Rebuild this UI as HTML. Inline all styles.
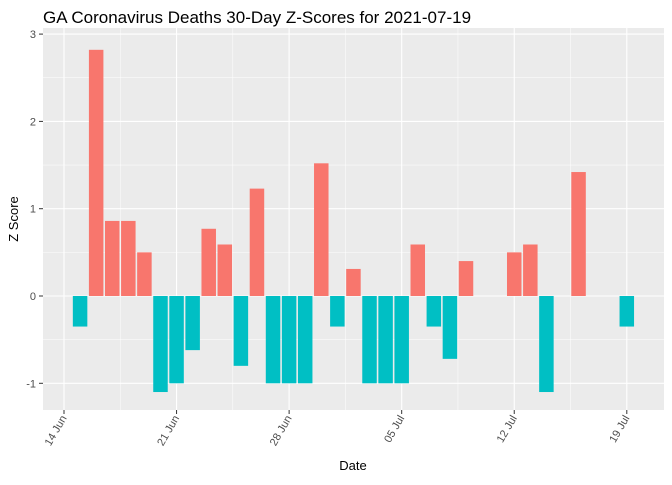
<!DOCTYPE html>
<html><head><meta charset="utf-8"><style>
body{margin:0;background:#fff;font-family:"Liberation Sans",sans-serif}
</style></head><body>
<svg id="c" width="672" height="480" xmlns="http://www.w3.org/2000/svg">
<text x="43" y="23" font-size="17" fill="#000">GA Coronavirus Deaths 30-Day Z-Scores for 2021-07-19</text>
<rect x="43" y="28" width="621" height="382" fill="#ebebeb"/>
<g id="grid"></g><g id="bars"></g><g id="axes"></g>
<text x="353" y="470" font-size="13" text-anchor="middle">Date</text>
<text transform="translate(18,219) rotate(-90)" font-size="13" text-anchor="middle">Z Score</text>
</svg>
<script>
const days=[1,2,3,4,5,6,7,8,9,10,11,12,13,14,15,16,17,18,19,20,21,22,23,24,25,26,27,28,29,30,31,32,33,34,35];
const zscores=[-0.35,2.82,0.86,0.86,0.5,-1.1,-1.0,-0.62,0.77,0.59,-0.8,1.23,-1.0,-1.0,-1.0,1.52,-0.35,0.31,-1.0,-1.0,-1.0,0.59,-0.35,-0.72,0.4,0,0,0.5,0.59,-1.1,0,1.42,0,0,-0.35];
const xTickDays=[0,7,14,21,28,35];
const xTickLabels=["14 Jun","21 Jun","28 Jun","05 Jul","12 Jul","19 Jul"];
const yTicks=[-1,0,1,2,3];
const ns="http://www.w3.org/2000/svg";
const X=d=>64+d*16.08, Y=v=>296-v*87.3;
function mk(t,a,p){const e=document.createElementNS(ns,t);for(const k in a)e.setAttribute(k,a[k]);p.appendChild(e);return e;}
const g=document.getElementById('grid'),b=document.getElementById('bars'),ax=document.getElementById('axes');
for(let i=0;i<yTicks.length-1;i++){const l=mk('line',{x1:43,x2:664,y1:Y(yTicks[i]+0.5),y2:Y(yTicks[i]+0.5),stroke:'#fff','stroke-width':0.5},g);

}
const m0=mk('line',{x1:43,x2:664,y1:Y(-1.5),y2:Y(-1.5),stroke:'#fff','stroke-width':0.5},g);
for(let i=0;i<xTickDays.length-1;i++){const l=mk('line',{y1:28,y2:410,x1:X(xTickDays[i]+3.5),x2:X(xTickDays[i]+3.5),stroke:'#fff','stroke-width':0.5},g);

}
yTicks.forEach(v=>{const l=mk('line',{x1:43,x2:664,y1:Y(v),y2:Y(v),stroke:'#fff','stroke-width':1.1},g);


mk('line',{x1:39,x2:43,y1:Y(v),y2:Y(v),stroke:'#333'},ax);
const t=mk('text',{x:36,y:Y(v)+4,'font-size':11,fill:'#4d4d4d','text-anchor':'end'},ax);t.textContent=v;

});
xTickDays.forEach((d,i)=>{const l=mk('line',{y1:28,y2:410,x1:X(d),x2:X(d),stroke:'#fff','stroke-width':1.1},g);


mk('line',{y1:410,y2:414,x1:X(d),x2:X(d),stroke:'#333'},ax);
const t=mk('text',{transform:`translate(${X(d)+3},${418}) rotate(-60)`,'font-size':11,fill:'#4d4d4d','text-anchor':'end'},ax);t.textContent=xTickLabels[i];

});
days.forEach((d,i)=>{const v=zscores[i];if(v===0)return;const r=mk('rect',{x:X(d)-7.25,width:14.5,y:Math.min(Y(v),Y(0)),height:Math.abs(Y(v)-Y(0)),fill:v>0?'#F8766D':'#00BFC4'},b);

});
</script>
</body></html>
